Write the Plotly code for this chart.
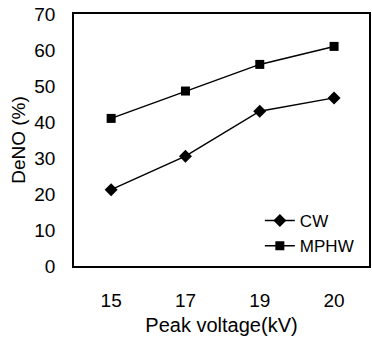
import plotly.graph_objects as go

categories = ["15", "17", "19", "20"]
cw = [21.2, 30.5, 43.0, 46.7]
mphw = [41.0, 48.6, 56.0, 61.0]
y_ticks = [0, 10, 20, 30, 40, 50, 60, 70]

font = "Liberation Sans, Arial, sans-serif"

fig = go.Figure()
fig.add_trace(go.Scatter(x=categories, y=cw, name="CW", mode="lines+markers",
                         line=dict(color="black", width=1.5),
                         marker=dict(symbol="diamond", size=10, color="black")))
fig.add_trace(go.Scatter(x=categories, y=mphw, name="MPHW", mode="lines+markers",
                         line=dict(color="black", width=1.5),
                         marker=dict(symbol="square", size=9, color="black")))

fig.update_layout(
    width=372, height=341,
    margin=dict(l=74, r=1, t=14, b=75),
    paper_bgcolor="white", plot_bgcolor="white",
    font=dict(family=font, size=19, color="black"),
    showlegend=True,
    legend=dict(x=0.63, y=0.25, xanchor="left", yanchor="top",
                bgcolor="rgba(0,0,0,0)", font=dict(size=17),
                itemwidth=30, tracegroupgap=0),
)
fig.update_xaxes(type="category", range=[-0.5, 3.47],
                 showline=True, linecolor="black", linewidth=1.5, mirror=True,
                 showgrid=False, ticks="", ticklabelstandoff=16,
                 title=dict(text="Peak voltage(kV)", font=dict(size=20), standoff=8))
fig.update_yaxes(range=[0, 70], tickvals=y_ticks,
                 showline=True, linecolor="black", linewidth=1.5, mirror=True,
                 showgrid=False, ticks="", ticklabelstandoff=13,
                 title=dict(text="DeNO (%)", font=dict(size=19), standoff=4))

fig.write_html("out.html")
